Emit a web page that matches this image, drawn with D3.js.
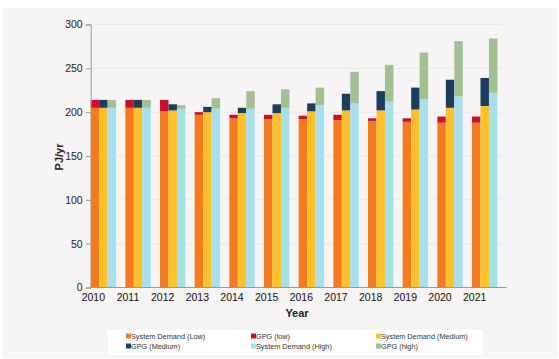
<!DOCTYPE html>
<html>
<head>
<meta charset="utf-8">
<script src="https://cdn.jsdelivr.net/npm/d3@7"></script>
<style>
  body { margin: 0; background: #fff; }
  svg { display: block; font-family: "Liberation Sans", Arial, sans-serif; }
</style>
</head>
<body>
<div id="chart"></div>
<script>
// Data (PJ/yr)
const years = ["2010", "2011", "2012", "2013", "2014", "2015", "2016", "2017", "2018", "2019", "2020", "2021"];
const demandLow  = [205, 205, 201, 197, 193, 192, 192, 191, 190, 189, 188, 188];
const gpgLow     = [9, 9, 13, 3, 4, 5, 4, 6, 3, 4, 7, 7];
const demandMed  = [205, 205, 202, 200, 199, 199, 201, 202, 202, 203, 205, 207];
const gpgMed     = [9, 9, 7, 6, 6, 10, 9, 19, 22, 25, 32, 32];
const demandHigh = [205, 205, 204, 204, 204, 205, 208, 210, 212, 215, 218, 222];
const gpgHigh    = [9, 9, 4, 12, 20, 21, 20, 36, 42, 53, 63, 62];
const yTicks = [0, 50, 100, 150, 200, 250, 300];

const scenarios = [
  { key: "Low",    demand: demandLow,  gpg: gpgLow,  cDemand: "#f47a20", cGpg: "#c8102e" },
  { key: "Medium", demand: demandMed,  gpg: gpgMed,  cDemand: "#fec12b", cGpg: "#1d3d5c" },
  { key: "High",   demand: demandHigh, gpg: gpgHigh, cDemand: "#a8dfea", cGpg: "#a2c092" }
];

const legendItems = [
  { label: "System Demand (Low)",    color: "#f47a20" },
  { label: "GPG (low)",              color: "#c8102e" },
  { label: "System Demand (Medium)", color: "#fec12b" },
  { label: "GPG (Medium)",           color: "#1d3d5c" },
  { label: "System Demand (High)",   color: "#a8dfea" },
  { label: "GPG (high)",             color: "#a2c092" }
];

const W = 559, H = 359;
const plot = { left: 90.7, right: 506.7, top: 24.5, bottom: 287.5 };

const svg = d3.select("#chart").append("svg")
  .attr("width", W)
  .attr("height", H);

// Panel background
svg.append("rect")
  .attr("x", 3).attr("y", 8)
  .attr("width", 554).attr("height", 350)
  .attr("fill", "#f6f4f4");

// Scales
const x = d3.scaleBand()
  .domain(years)
  .range([plot.left, plot.right]);

const inner = d3.scaleBand()
  .domain(scenarios.map(s => s.key))
  .range([0, 25.4]);

const y = d3.scaleLinear()
  .domain([0, 300])
  .range([plot.bottom, plot.top]);

// Gridlines
svg.append("g")
  .selectAll("line")
  .data(yTicks.filter(d => d > 0))
  .enter()
  .append("line")
    .attr("x1", plot.left)
    .attr("x2", plot.right - 4)
    .attr("y1", d => y(d))
    .attr("y2", d => y(d))
    .attr("stroke", "#e9e7e7")
    .attr("stroke-width", 1);

// Bars
scenarios.forEach(s => {
  const g = svg.append("g");
  g.selectAll("rect.demand")
    .data(years)
    .enter()
    .append("rect")
      .attr("class", "demand")
      .attr("x", d => x(d) + inner(s.key))
      .attr("width", inner.bandwidth())
      .attr("y", (d, i) => y(s.demand[i]))
      .attr("height", (d, i) => y(0) - y(s.demand[i]))
      .attr("fill", s.cDemand);
  g.selectAll("rect.gpg")
    .data(years)
    .enter()
    .append("rect")
      .attr("class", "gpg")
      .attr("x", d => x(d) + inner(s.key))
      .attr("width", inner.bandwidth())
      .attr("y", (d, i) => y(s.demand[i] + s.gpg[i]))
      .attr("height", (d, i) => y(s.demand[i]) - y(s.demand[i] + s.gpg[i]))
      .attr("fill", s.cGpg);
});

// Y Axis
const yAxis = svg.append("g")
  .attr("transform", `translate(${plot.left},0)`)
  .call(d3.axisLeft(y).tickValues(yTicks).tickSize(5).tickPadding(3));
yAxis.select(".domain").attr("stroke", "#999");
yAxis.selectAll(".tick line").attr("stroke", "#999");
yAxis.selectAll("text")
  .style("font-size", "10.5px")
  .attr("fill", "#222");

// X Axis line
svg.append("line")
  .attr("x1", plot.left).attr("x2", plot.right)
  .attr("y1", plot.bottom).attr("y2", plot.bottom)
  .attr("stroke", "#999");

// X labels (sit near the start of each group)
const xAxis = svg.append("g")
  .attr("transform", `translate(${2.6 - x.bandwidth() / 2},${plot.bottom})`)
  .call(d3.axisBottom(x).tickSize(0).tickPadding(6));
xAxis.select(".domain").remove();
xAxis.selectAll("text")
  .style("font-size", "10.5px")
  .attr("fill", "#111");

// Axis titles
svg.append("text")
  .attr("x", 297)
  .attr("y", 317)
  .attr("text-anchor", "middle")
  .style("font-size", "11px")
  .style("font-weight", "bold")
  .attr("fill", "#222")
  .text("Year");

svg.append("text")
  .attr("transform", "rotate(-90)")
  .attr("x", -157)
  .attr("y", 63)
  .attr("text-anchor", "middle")
  .style("font-size", "11px")
  .style("font-weight", "bold")
  .attr("fill", "#222")
  .text("PJ/yr");

// Legend
svg.append("rect")
  .attr("x", 108).attr("y", 330)
  .attr("width", 375).attr("height", 25)
  .attr("fill", "#fff");

const colX = [126, 251, 376];
const legend = svg.append("g")
  .selectAll("g")
  .data(legendItems)
  .enter()
  .append("g")
    .attr("transform", (d, i) => `translate(${colX[i % 3]},${i < 3 ? 336 : 346})`);

legend.append("rect")
  .attr("x", 0).attr("y", -2.5)
  .attr("width", 5).attr("height", 5)
  .attr("fill", d => d.color);

legend.append("text")
  .attr("x", 5)
  .attr("y", 2.5)
  .style("font-size", "7.3px")
  .attr("fill", "#333")
  .text(d => d.label);
</script>
</body>
</html>
